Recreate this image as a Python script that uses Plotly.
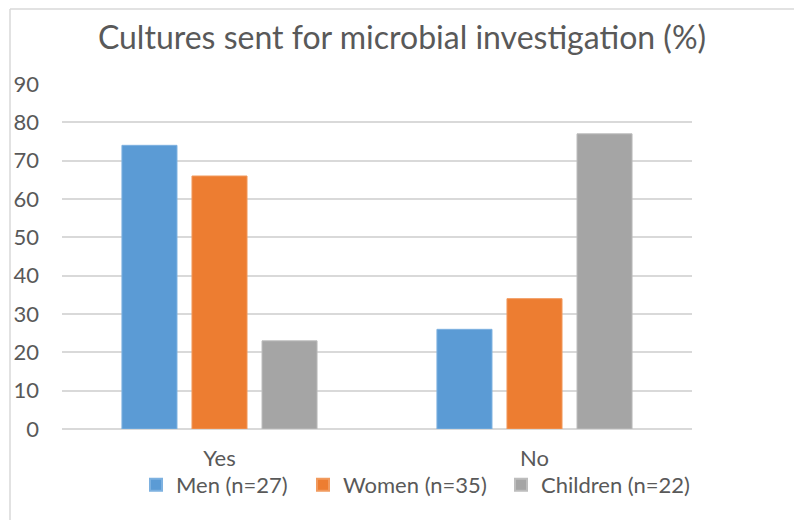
import plotly.graph_objects as go

categories = ["Yes", "No"]
series_names = ["Men (n=27)", "Women (n=35)", "Children (n=22)"]
men = [74, 26]
women = [66, 34]
children = [23, 77]
colors = ["#5B9BD5", "#ED7D31", "#A5A5A5"]
line_colors = ["#7DB1E0", "#F19A5E", "#BDBDBD"]
legend_widths = [122, 153, 165]
y_ticks = [0, 10, 20, 30, 40, 50, 60, 70, 80, 90]

# the page body has an 8px margin, so the figure starts at (8, 8)
OFF = 8
W, H = 802 - OFF, 520 - OFF
L, R, T, B = 62 - OFF, 802 - 692, 84 - OFF, 520 - 429
pw, ph = W - L - R, H - T - B

def px_x(p):
    return (p - OFF - L) / pw

def px_y(p):
    return (H - B - (p - OFF)) / ph

FONT = "Lato"
fig = go.Figure()
for name, vals, c, lc, lw in zip(series_names, [men, women, children], colors,
                                 line_colors, legend_widths):
    fig.add_trace(go.Bar(x=categories, y=vals, name=name, legendwidth=lw,
                         marker=dict(color=c, line=dict(color=lc, width=1))))

fig.update_layout(
    width=W, height=H,
    margin=dict(l=L, r=R, t=T, b=B, autoexpand=False),
    paper_bgcolor="white", plot_bgcolor="white",
    barmode="group", bargap=0.333, bargroupgap=0.214,
    title=dict(text="Cultures sent for microbial investigation (%)",
               x=px_x(402), xref="paper", xanchor="center",
               y=1 - (38 - OFF) / H, yanchor="middle",
               font=dict(family=FONT, size=32, color="#595959")),
    font=dict(family=FONT, color="#595959"),
    xaxis=dict(showgrid=False, showline=False, ticks="", ticklabelstandoff=14,
               tickfont=dict(size=22, color="#595959")),
    yaxis=dict(range=[0, 90], tickvals=y_ticks, showgrid=True,
               gridcolor="#D9D9D9", gridwidth=1.5, zeroline=True,
               zerolinecolor="#D9D9D9", zerolinewidth=1.5,
               ticks="", ticklabelstandoff=22,
               tickfont=dict(size=22, color="#595959")),
    legend=dict(orientation="h", x=px_x(136), xanchor="left",
                y=px_y(485), yanchor="middle",
                font=dict(size=22, color="#595959"),
                itemsizing="constant", bgcolor="rgba(0,0,0,0)"),
    shapes=[
        dict(type="line", xref="paper", yref="paper",
             x0=px_x(10), x1=px_x(802), y0=px_y(9), y1=px_y(9),
             line=dict(color="#D9D9D9", width=1.5)),
        dict(type="line", xref="paper", yref="paper",
             x0=px_x(10), x1=px_x(10), y0=px_y(9), y1=px_y(520),
             line=dict(color="#D9D9D9", width=1.5)),
    ],
)

fig.write_html("out.html")
